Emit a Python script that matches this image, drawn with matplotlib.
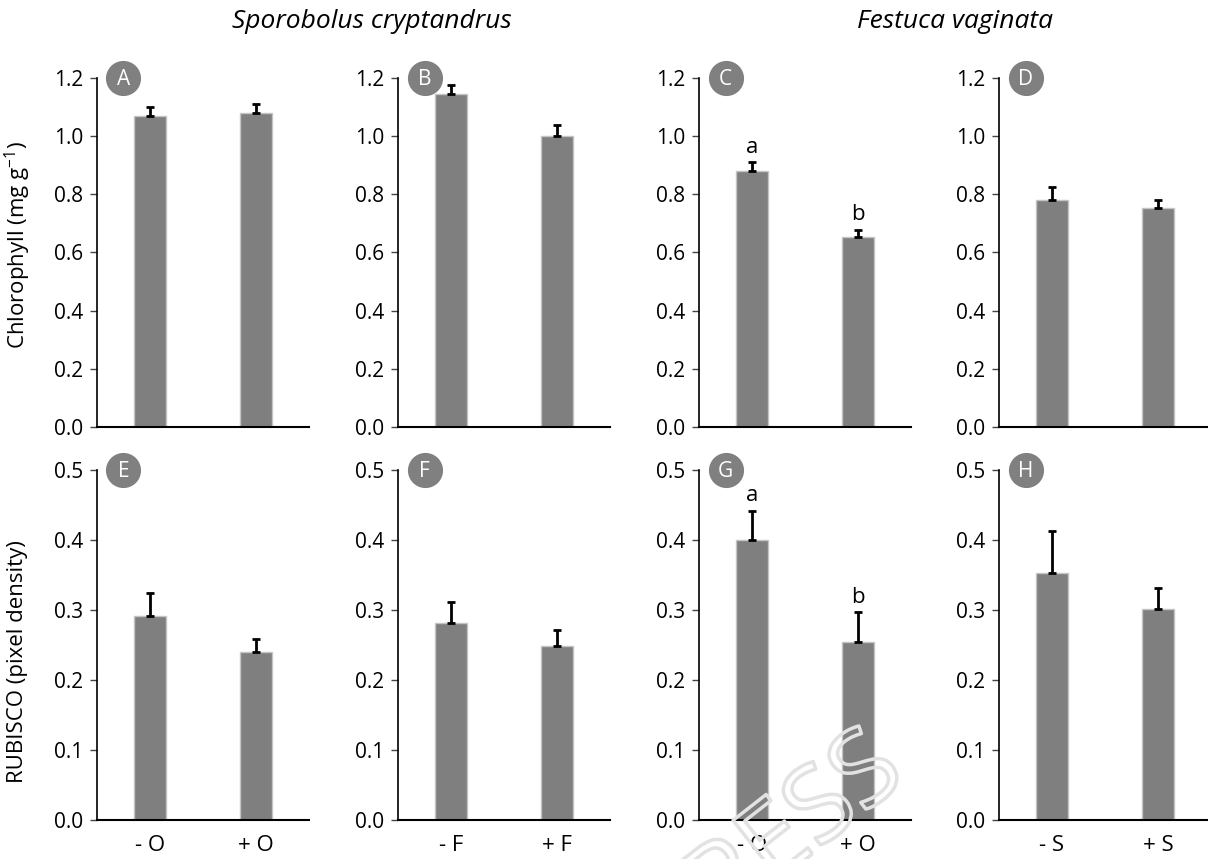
import numpy as np
import matplotlib
matplotlib.use('Agg')
import matplotlib.pyplot as plt
import matplotlib.patheffects as pe

plt.rcParams['font.family'] = ['Open Sans', 'DejaVu Sans']
plt.rcParams['mathtext.fontset'] = 'custom'
plt.rcParams['mathtext.rm'] = 'Open Sans'

# chlorophyll (top row), mean and upper error per panel
chl_means = [[1.070, 1.079], [1.145, 1.000], [0.880, 0.652], [0.780, 0.754]]
chl_err = [[0.032, 0.032], [0.032, 0.039], [0.031, 0.027], [0.046, 0.025]]
# RUBISCO (bottom row)
rub_means = [[0.291, 0.240], [0.282, 0.249], [0.400, 0.255], [0.353, 0.301]]
rub_err = [[0.033, 0.019], [0.030, 0.023], [0.042, 0.042], [0.060, 0.030]]

xlabels = [['- O', '+ O'], ['- F', '+ F'], ['- O', '+ O'], ['- S', '+ S']]
top_letters = ['A', 'B', 'C', 'D']
bot_letters = ['E', 'F', 'G', 'H']
sig_col = 2
sig_labels = ['a', 'b']

W, H = 1208, 859
fig = plt.figure(figsize=(W / 100, H / 100), dpi=100)

lefts = [97, 398, 699, 999]
axw = 212


def panel(ax, means, err, ymax, step, letter, labels=None, sig=None):
    x = np.arange(2)
    ax.bar(x, means, width=0.31, color='#7f7f7f', edgecolor='#c4c4c4',
           linewidth=1, zorder=2)
    ax.errorbar(x, means, yerr=[np.zeros(2), err], fmt='none', ecolor='black',
                elinewidth=2, capsize=3, capthick=2, zorder=3)
    ax.set_xlim(-0.5, 1.5)
    ax.set_ylim(0, ymax)
    ticks = np.arange(0, ymax + step / 2, step)
    ax.set_yticks(ticks)
    ax.set_yticklabels(['%.1f' % v for v in ticks])
    for s in ['top', 'right']:
        ax.spines[s].set_visible(False)
    ax.spines['left'].set_linewidth(1.2)
    ax.spines['bottom'].set_linewidth(1.5)
    ax.tick_params(axis='y', direction='out', length=5, width=1,
                   color='#444444', labelsize=15, pad=5)
    ax.tick_params(axis='x', length=0, labelsize=16, pad=11)
    ax.set_xticks(x)
    if labels is None:
        ax.set_xticklabels(['', ''])
    else:
        ax.set_xticklabels(labels)
    # panel letter in a grey disc
    ax.scatter([0.125], [1.0], s=640, color='#808080', transform=ax.transAxes,
               clip_on=False, zorder=5, linewidths=0)
    ax.text(0.125, 0.995, letter, transform=ax.transAxes, ha='center',
            va='center', color='white', fontsize=15, zorder=6)
    if sig is not None:
        for xi, m, e, s in zip(x, means, err, sig):
            ax.text(xi, m + e + ymax * 0.012, s, ha='center', va='bottom',
                    fontsize=16)


for i in range(4):
    ax1 = fig.add_axes([lefts[i] / W, (H - 427) / H, axw / W, 349 / H])
    panel(ax1, chl_means[i], chl_err[i], 1.2, 0.2, top_letters[i],
          sig=sig_labels if i == sig_col else None)
    ax2 = fig.add_axes([lefts[i] / W, (H - 820) / H, axw / W, 350 / H])
    panel(ax2, rub_means[i], rub_err[i], 0.5, 0.1, bot_letters[i],
          labels=xlabels[i], sig=sig_labels if i == sig_col else None)

fig.text(372 / W, 1 - 22 / H, 'Sporobolus cryptandrus', style='italic',
         fontsize=19, ha='center', va='center')
fig.text(955 / W, 1 - 22 / H, 'Festuca vaginata', style='italic',
         fontsize=19, ha='center', va='center')
fig.text(18 / W, 1 - 245 / H, 'Chlorophyll (mg g$^{\\mathregular{-1}}$)',
         rotation=90, fontsize=16, ha='center', va='center')
fig.text(18 / W, 1 - 662 / H, 'RUBISCO (pixel density)',
         rotation=90, fontsize=16, ha='center', va='center')

# faint watermark
fig.text(772 / W, 1 - 850 / H, 'PRESS', rotation=38, fontsize=76,
         color='none', ha='center', va='center', zorder=10,
         path_effects=[pe.Stroke(linewidth=2.5, foreground='#e2e2e2')])

fig.savefig('out.png', dpi=100)
